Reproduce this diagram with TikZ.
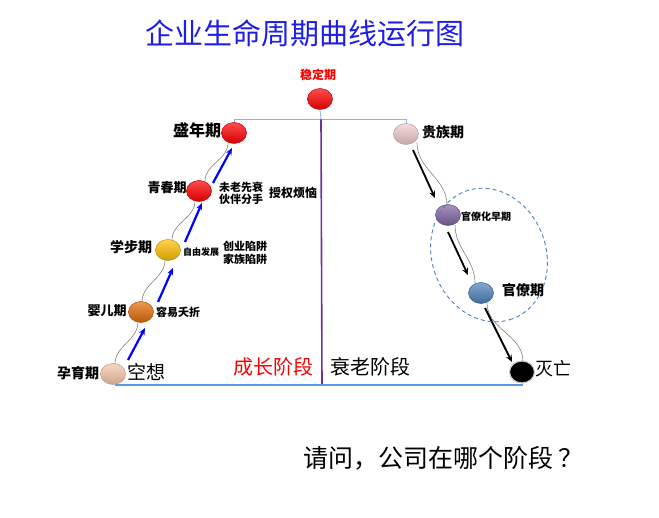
\documentclass[tikz,border=0pt]{standalone}
\usepackage{fontspec}
\setmainfont{Noto Sans CJK SC}
\usetikzlibrary{shapes.geometric,arrows.meta,calc}
\definecolor{titleblue}{RGB}{30,30,230}
\definecolor{peach}{RGB}{250,200,170}
\definecolor{orangeb}{RGB}{227,108,9}
\definecolor{yellowb}{RGB}{255,192,0}
\definecolor{redb}{RGB}{255,0,0}
\definecolor{pinkb}{RGB}{240,205,205}
\definecolor{purpleb}{RGB}{128,100,162}
\definecolor{blueb}{RGB}{79,129,189}
\definecolor{lineblue}{RGB}{141,179,226}
\definecolor{baseblue}{RGB}{91,155,230}
\definecolor{vpurple}{RGB}{112,48,160}
\definecolor{dashblue}{RGB}{79,129,189}
\tikzset{
  ball/.style={ellipse, minimum width=25pt, minimum height=21pt, inner sep=0pt,
    draw=#1!75!black, line width=0.5pt,
    top color=#1!70!white, middle color=#1, bottom color=#1!82!black},
  lbl/.style={inner sep=0pt, font=\bfseries\fontsize{#1}{#1}\selectfont},
  txt/.style={inner sep=0pt, font=\fontsize{#1}{#1}\selectfont},
  wave/.style={draw=gray, line width=0.6pt},
  barrow/.style={draw=blue, line width=2.2pt, -{Stealth[length=7pt,width=6pt]}},
  karrow/.style={draw=black, line width=1.8pt, -{Stealth[length=7pt,width=6pt]}},
}
\begin{document}
\begin{tikzpicture}[x=1pt,y=-1pt]
\useasboundingbox (0,0) rectangle (659,518);

% title
\node[txt=29, text=titleblue] (title) at (305,33) {企业生命周期曲线运行图};

% frame lines
\coordinate (topc) at (321,119.5);
\coordinate (botc) at (322,385);
\coordinate (bl) at (115,385);
\coordinate (br) at (523,385);

% balls left
\node[ball=peach] (a1) at (113,374) {};
\node[ball=orangeb] (a2) at (141,312) {};
\node[ball=yellowb] (a3) at (168,250) {};
\node[ball=redb] (a4) at (199,191) {};
\node[ball=redb] (a5) at (234,133) {};
\node[ball=redb] (s) at (320,99) {};
% balls right
\node[ball=pinkb] (b1) at (406,134) {};
\node[ball=purpleb] (b2) at (448,215) {};
\node[ball=blueb] (b3) at (481,293) {};
\node[ellipse, minimum width=25pt, minimum height=22pt, inner sep=0pt, fill=black, draw=gray!40, line width=1.2pt] (b4) at (522,372) {};

% connectors
\draw[draw=lineblue, line width=0.8pt] (a5.north) |- (topc) -| (b1.north);
\draw[draw=lineblue, line width=0.8pt] (s.south) -- (topc);
\draw[draw=vpurple, line width=1.6pt] (topc) -- (botc);
\draw[draw=baseblue, line width=1.6pt] (bl) -- (br);

% gray waves
\draw[wave] ($(a1.north)+(2,1)$) to[out=90,in=-90] ($(a2.south)+(-3,-1)$);
\draw[wave] ($(a2.north)+(1,1)$) to[out=90,in=-90] ($(a3.south)+(-3,-1)$);
\draw[wave] ($(a3.north)+(4,1)$) to[out=90,in=-90] ($(a4.south)+(-4,-1)$);
\draw[wave] ($(a4.north)+(6,1)$) to[out=90,in=-90] ($(a5.south)+(-6,-1)$);
\draw[wave] ($(b1.south)+(11,-2)$) to[out=-90,in=90] ($(b2.north)+(-1,1)$);
\draw[wave] ($(b2.south)+(7,-1)$) to[out=-90,in=90] ($(b3.north)+(-6,1)$);
\draw[wave] ($(b3.south)+(6,-1)$) to[out=-90,in=90] ($(b4.north)+(1,1)$);

% blue arrows
\draw[barrow] ($(a1)+(15,-14)$) -- ($(a2)+(4,16)$);
\draw[barrow] ($(a2)+(17,-10)$) -- ($(a3)+(5,18)$);
\draw[barrow] ($(a3)+(17,-8)$) -- ($(a4)+(3,12)$);
\draw[barrow] ($(a4)+(14,-8)$) -- ($(a5)+(-2,15)$);
% black arrows
\draw[karrow] ($(b1)+(7,16)$) -- ($(b2)+(-13,-17)$);
\draw[karrow] ($(b2)+(0,17)$) -- ($(b3)+(-13,-18)$);
\draw[karrow] ($(b3)+(4,15)$) -- ($(b4)+(-10,-10)$);

% dashed ellipse
\draw[draw=dashblue, line width=0.9pt, dash pattern=on 4pt off 3pt, rotate around={-70:(489,255)}]
  (489,255) ellipse [x radius=68, y radius=57];

% labels
\node[lbl=12, text=red] (ls) at (318,75) {稳定期};
\node[lbl=16] (l5) at (197,130) {盛年期};
\node[lbl=13] (l4) at (167,188) {青春期};
\node[lbl=14] (l3) at (131,247) {学步期};
\node[lbl=13] (l2) at (107,311) {婴儿期};
\node[lbl=14] (l1) at (78,373) {孕育期};
\node[txt=19] (t1) at (146,372) {空想};
\node[lbl=11] (t2) at (178,312) {容易夭折};
\node[lbl=9] (t3) at (201,252) {自由发展};
\node[lbl=11] (t4) at (245,246) {创业陷阱};
\node[lbl=11] (t5) at (245,259) {家族陷阱};
\node[lbl=11] (t6) at (241,187) {未老先衰};
\node[lbl=11] (t7) at (241,199) {伙伴分手};
\node[lbl=12] (t8) at (293,193) {授权烦恼};
\node[lbl=14] (r1) at (443,132) {贵族期};
\node[lbl=10] (r2) at (486,217) {官僚化早期};
\node[lbl=14] (r3) at (523,290) {官僚期};
\node[txt=18] (r4) at (553,369) {灭亡};
\node[txt=20, text=red] (g1) at (273,367) {成长阶段};
\node[txt=20] (g2) at (370,367) {衰老阶段};
\node[txt=25, anchor=west] (q) at (303,458) {请问，公司在哪个阶段\kern0.2em？};
\end{tikzpicture}
\end{document}
